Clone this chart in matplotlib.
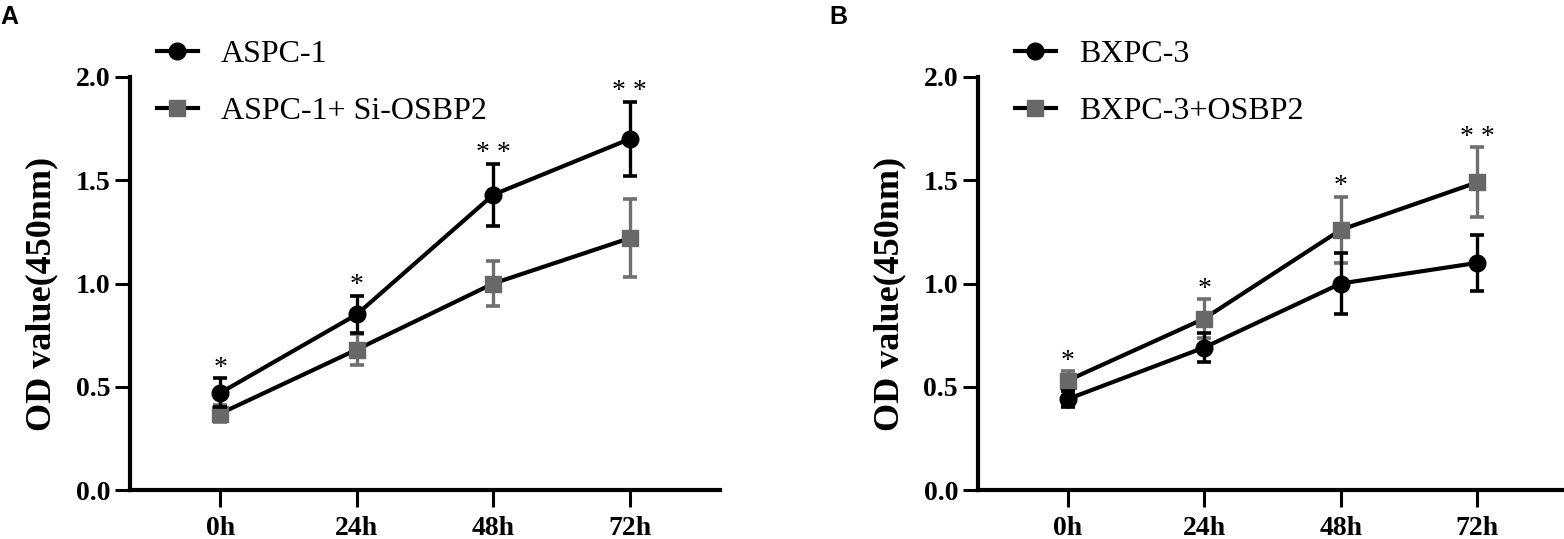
import matplotlib
matplotlib.use('Agg')
import matplotlib.pyplot as plt
from matplotlib.ticker import FormatStrFormatter

# ---- data ----
time_labels = ['0h', '24h', '48h', '72h']

aspc1_mean = [0.47, 0.85, 1.43, 1.70]
aspc1_sd = [0.07, 0.09, 0.15, 0.18]
aspc1_si_mean = [0.37, 0.68, 1.00, 1.22]
aspc1_si_sd = [0.04, 0.075, 0.11, 0.19]
sig_a = ['*', '*', '* *', '* *']

bxpc3_mean = [0.44, 0.69, 1.00, 1.10]
bxpc3_sd = [0.04, 0.07, 0.15, 0.135]
bxpc3_osbp2_mean = [0.53, 0.83, 1.26, 1.49]
bxpc3_osbp2_sd = [0.045, 0.095, 0.16, 0.17]
sig_b = ['*', '*', '*', '* *']

yticks = [0.0, 0.5, 1.0, 1.5, 2.0]

SERIF = 'Liberation Serif'
SANS = 'Liberation Sans'
GRAY = '#686868'
GRAY_ERR = '#707070'

W, H = 1564, 539
fig = plt.figure(figsize=(W / 100, H / 100), dpi=100)


def panel(left_px, letter, letter_x_px, base_mean, base_sd, base_label,
          alt_mean, alt_sd, alt_label, sig, legend_x_px):
    ax = fig.add_axes([left_px / W, 49 / H, 590 / W, 413 / H])
    x = list(range(len(time_labels)))

    # gray series (drawn first)
    ax.errorbar(x, alt_mean, yerr=alt_sd, fmt='none', ecolor=GRAY_ERR,
                elinewidth=2.4, capsize=5, capthick=2.6, zorder=2)
    h_alt, = ax.plot(x, alt_mean, color='black', lw=3, marker='s', ms=11,
                     mfc=GRAY, mec=GRAY, zorder=3, label=alt_label)
    # black series
    ax.errorbar(x, base_mean, yerr=base_sd, fmt='none', ecolor='black',
                elinewidth=2.4, capsize=5, capthick=2.6, zorder=4)
    h_base, = ax.plot(x, base_mean, color='black', lw=3, marker='o', ms=12,
                      mfc='black', mec='black', zorder=5, label=base_label)

    # significance stars above the higher error bar
    for i, s in enumerate(sig):
        top = max(base_mean[i] + base_sd[i], alt_mean[i] + alt_sd[i])
        ax.annotate(s, xy=(x[i], top), xytext=(0, 2.5), textcoords='offset points',
                    ha='center', va='baseline', fontsize=20, family=SERIF)

    ax.set_xlim(-0.66, 3.66)
    ax.set_ylim(0, 2.0)
    ax.set_xticks(x)
    ax.set_xticklabels(time_labels)
    ax.set_yticks(yticks)
    ax.yaxis.set_major_formatter(FormatStrFormatter('%.1f'))
    for lab in ax.get_xticklabels() + ax.get_yticklabels():
        lab.set_fontfamily(SERIF)
        lab.set_fontweight('bold')
        lab.set_fontsize(20)
    ax.tick_params(axis='y', length=11, width=2.2, pad=3)
    ax.tick_params(axis='x', length=12, width=2.2, pad=7)
    for side in ['top', 'right']:
        ax.spines[side].set_visible(False)
    for side in ['left', 'bottom']:
        ax.spines[side].set_linewidth(3)

    ax.set_ylabel('OD value(450nm)', fontsize=26, fontweight='bold', family=SERIF)
    ax.yaxis.set_label_coords(-0.121, 0.474)

    ax.legend(handles=[h_base, h_alt], loc='upper left',
              bbox_to_anchor=(legend_x_px / W, 1 - 40 / H),
              bbox_transform=fig.transFigure, frameon=False,
              prop={'family': SERIF, 'size': 23},
              handlelength=1.28, handletextpad=0.72, labelspacing=0.86,
              borderpad=0, borderaxespad=0)

    fig.text(letter_x_px / W, 1 - 24 / H, letter, fontsize=18, fontweight='bold',
             family=SANS, ha='left', va='baseline')
    return ax


panel(130, 'A', 0, aspc1_mean, aspc1_sd, 'ASPC-1',
      aspc1_si_mean, aspc1_si_sd, 'ASPC-1+ Si-OSBP2', sig_a, 157)
panel(977.5, 'B', 829, bxpc3_mean, bxpc3_sd, 'BXPC-3',
      bxpc3_osbp2_mean, bxpc3_osbp2_sd, 'BXPC-3+OSBP2', sig_b, 1015)

fig.savefig('out.png', dpi=100)
